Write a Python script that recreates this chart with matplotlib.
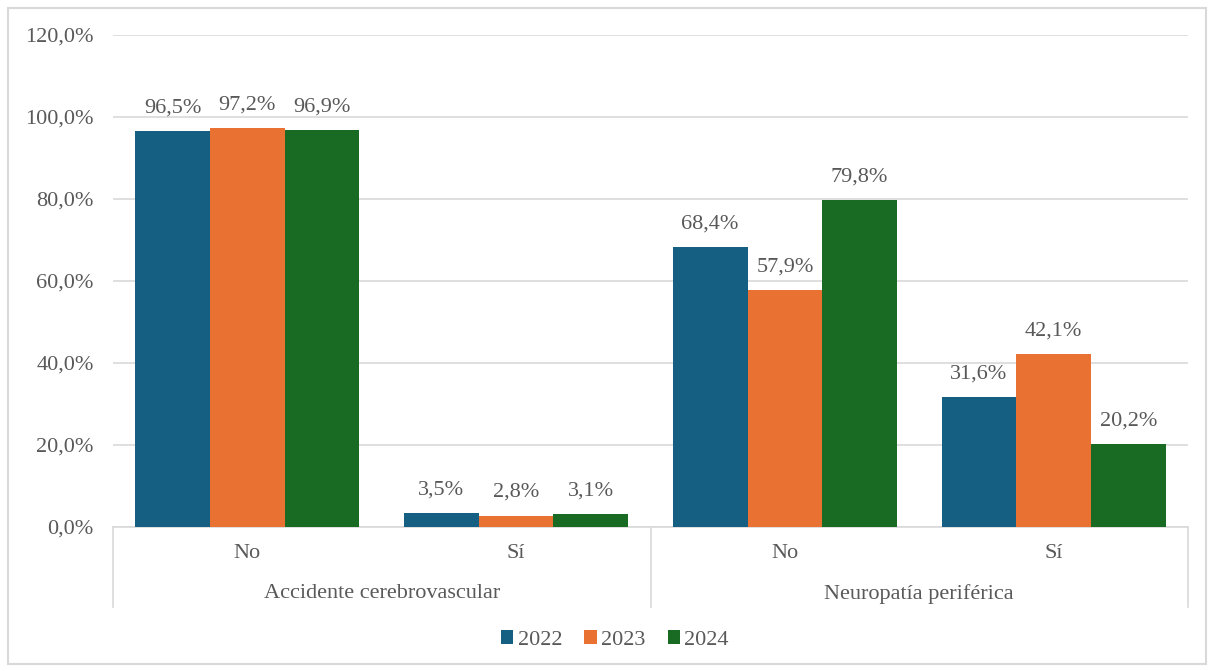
import matplotlib
matplotlib.use("Agg")
import matplotlib.pyplot as plt
from matplotlib.patches import Rectangle, Patch
import numpy as np

plt.rcParams['font.family'] = ['Liberation Serif', 'DejaVu Serif']

# Data
groups = ["Accidente cerebrovascular", "Neuropatía periférica"]
subcats = ["No", "Sí", "No", "Sí"]
years = ["2022", "2023", "2024"]
v2022 = [96.5, 3.5, 68.4, 31.6]
v2023 = [97.2, 2.8, 57.9, 42.1]
v2024 = [96.9, 3.1, 79.8, 20.2]
yticks = [0, 20, 40, 60, 80, 100, 120]

colors = ["#156082", "#E97132", "#196B24"]
text_col = "#595959"
grid_col = "#D9D9D9"
fs = 16

W, H = 1214, 671
fig = plt.figure(figsize=(W / 100, H / 100), dpi=100)
fig.patch.set_facecolor("white")
fig.add_artist(Rectangle((8 / W, 7 / H), 1198 / W, 656 / H, transform=fig.transFigure,
                         fill=False, edgecolor=grid_col, linewidth=1.5))

ax_l, ax_r, ax_t, ax_b = 113, 1188, 35, 527
ax = fig.add_axes([ax_l / W, 1 - ax_b / H, (ax_r - ax_l) / W, (ax_b - ax_t) / H])

x = np.arange(len(subcats))
bw = 0.278
series = [v2022, v2023, v2024]
for i, (vals, c) in enumerate(zip(series, colors)):
    pos = x + (i - 1) * bw
    bars = ax.bar(pos, vals, width=bw, color=c, zorder=3)
    for b, v in zip(bars, vals):
        ax.annotate(f"{v:.1f}".replace(".", ",") + "%",
                    (b.get_x() + b.get_width() / 2, v),
                    xytext=(0, 23), textcoords="offset pixels",
                    ha="center", va="center", fontsize=fs, color=text_col)

ax.set_xlim(-0.5, len(subcats) - 0.5)
ax.set_ylim(0, 120)
ax.set_yticks(yticks)
ax.set_yticklabels([f"{t:.1f}".replace(".", ",") + "%" for t in yticks],
                   fontsize=fs, color=text_col)
ax.tick_params(axis="y", length=0, pad=14)
ax.grid(axis="y", color=grid_col, linewidth=1.2, zorder=0)
for s in ["top", "right", "left"]:
    ax.spines[s].set_visible(False)
ax.spines["bottom"].set_color(grid_col)
ax.spines["bottom"].set_linewidth(1.2)
ax.set_xticks([])

# Two-level category axis
axh = ax_b - ax_t
trans = ax.get_xaxis_transform()
y_sub = -26 / axh
y_grp = -67 / axh
y_end = -80 / axh
for xv in [-0.5, 1.5, 3.5]:
    ax.plot([xv, xv], [0, y_end], transform=trans, color=grid_col,
            linewidth=1.2, clip_on=False)
for xi, lab in zip(x, subcats):
    ax.text(xi, y_sub, lab, transform=trans, ha="center", va="center",
            fontsize=fs, color=text_col)
for gi, g in enumerate(groups):
    ax.text(0.5 + 2 * gi, y_grp, g, transform=trans, ha="center", va="center",
            fontsize=fs, color=text_col)

handles = [Patch(facecolor=c, edgecolor="none") for c in colors]
fig.legend(handles, years, loc="center", bbox_to_anchor=(615 / W, 1 - 640 / H),
           ncol=3, frameon=False, fontsize=fs, labelcolor=text_col,
           handlelength=0.55, handleheight=0.55, handletextpad=0.2, columnspacing=1.0)

fig.savefig("out.png", dpi=100, facecolor="white")
